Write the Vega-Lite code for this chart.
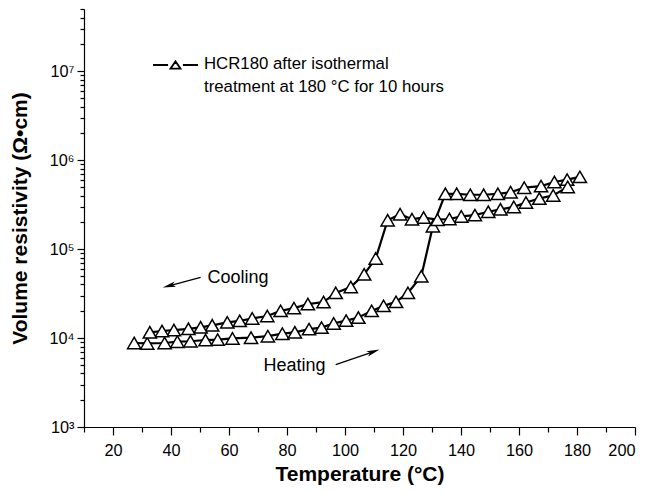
{
  "$schema": "https://vega.github.io/schema/vega-lite/v6.json",
  "width": 551,
  "height": 418,
  "autosize": {"type": "none"},
  "padding": {"left": 84, "top": 9, "right": 16, "bottom": 65},
  "background": "white",
  "config": {
    "view": {"stroke": null},
    "font": "Liberation Sans",
    "axis": {"grid": false, "domainColor": "black", "tickColor": "black", "labelColor": "black", "titleColor": "black", "labelFont": "Liberation Sans", "titleFont": "Liberation Sans", "labelFontSize": 16.3, "titleFontSize": 21, "titleFontWeight": "bold", "domainWidth": 1.2, "tickWidth": 1.2}
  },
  "datasets": {
    "pts": [
      {"T": 27.3, "R": 8800, "run": "heating"},
      {"T": 31.8, "R": 8700, "run": "heating"},
      {"T": 37.8, "R": 8800, "run": "heating"},
      {"T": 42.2, "R": 9100, "run": "heating"},
      {"T": 46.7, "R": 9200, "run": "heating"},
      {"T": 51.9, "R": 9500, "run": "heating"},
      {"T": 56.1, "R": 9600, "run": "heating"},
      {"T": 61.2, "R": 9900, "run": "heating"},
      {"T": 67.6, "R": 10100, "run": "heating"},
      {"T": 73.4, "R": 10500, "run": "heating"},
      {"T": 78.4, "R": 11200, "run": "heating"},
      {"T": 82.7, "R": 11600, "run": "heating"},
      {"T": 87.6, "R": 12600, "run": "heating"},
      {"T": 91.9, "R": 13100, "run": "heating"},
      {"T": 96.1, "R": 14600, "run": "heating"},
      {"T": 100.4, "R": 15700, "run": "heating"},
      {"T": 104.6, "R": 17000, "run": "heating"},
      {"T": 109.2, "R": 20200, "run": "heating"},
      {"T": 113.3, "R": 23000, "run": "heating"},
      {"T": 117.6, "R": 25500, "run": "heating"},
      {"T": 121.7, "R": 32200, "run": "heating"},
      {"T": 126.3, "R": 49500, "run": "heating"},
      {"T": 130.3, "R": 181000, "run": "heating"},
      {"T": 134.6, "R": 418000, "run": "heating"},
      {"T": 138.5, "R": 418000, "run": "heating"},
      {"T": 143.2, "R": 408000, "run": "heating"},
      {"T": 147.8, "R": 408000, "run": "heating"},
      {"T": 152.7, "R": 418000, "run": "heating"},
      {"T": 157.1, "R": 436000, "run": "heating"},
      {"T": 161.8, "R": 490000, "run": "heating"},
      {"T": 167.6, "R": 510000, "run": "heating"},
      {"T": 172.2, "R": 568000, "run": "heating"},
      {"T": 176.6, "R": 604000, "run": "heating"},
      {"T": 181.0, "R": 648000, "run": "heating"},
      {"T": 176.8, "R": 500000, "run": "cooling"},
      {"T": 171.8, "R": 401000, "run": "cooling"},
      {"T": 167.0, "R": 370000, "run": "cooling"},
      {"T": 162.4, "R": 334000, "run": "cooling"},
      {"T": 158.2, "R": 298000, "run": "cooling"},
      {"T": 153.6, "R": 280000, "run": "cooling"},
      {"T": 149.4, "R": 263000, "run": "cooling"},
      {"T": 144.8, "R": 241000, "run": "cooling"},
      {"T": 140.1, "R": 233000, "run": "cooling"},
      {"T": 136.0, "R": 218000, "run": "cooling"},
      {"T": 131.9, "R": 214000, "run": "cooling"},
      {"T": 127.1, "R": 226000, "run": "cooling"},
      {"T": 123.1, "R": 217000, "run": "cooling"},
      {"T": 119.0, "R": 247000, "run": "cooling"},
      {"T": 114.7, "R": 211000, "run": "cooling"},
      {"T": 110.6, "R": 78500, "run": "cooling"},
      {"T": 106.6, "R": 52000, "run": "cooling"},
      {"T": 102.0, "R": 37500, "run": "cooling"},
      {"T": 96.8, "R": 32200, "run": "cooling"},
      {"T": 92.6, "R": 25400, "run": "cooling"},
      {"T": 87.2, "R": 24100, "run": "cooling"},
      {"T": 82.4, "R": 21700, "run": "cooling"},
      {"T": 77.8, "R": 20200, "run": "cooling"},
      {"T": 73.2, "R": 17700, "run": "cooling"},
      {"T": 68.0, "R": 16600, "run": "cooling"},
      {"T": 63.7, "R": 15600, "run": "cooling"},
      {"T": 59.4, "R": 15000, "run": "cooling"},
      {"T": 54.2, "R": 13900, "run": "cooling"},
      {"T": 50.2, "R": 13200, "run": "cooling"},
      {"T": 46.0, "R": 12700, "run": "cooling"},
      {"T": 41.0, "R": 12300, "run": "cooling"},
      {"T": 36.9, "R": 12000, "run": "cooling"},
      {"T": 32.7, "R": 11600, "run": "cooling"}
    ],
    "arrows": [
      {"T": 50.2, "R": 48000, "arrow": "cool"},
      {"T": 39.0, "R": 38400, "arrow": "cool"},
      {"T": 96.8, "R": 5040, "arrow": "heat"},
      {"T": 110.2, "R": 7100, "arrow": "heat"}
    ],
    "heads": [
      {"T": 39.3, "R": 38700, "ang": -104.7},
      {"T": 109.8, "R": 7020, "ang": 71.3}
    ],
    "notes": [
      {"T": 52.6, "R": 47800, "label": "Cooling"},
      {"T": 71.9, "R": 4820, "label": "Heating"}
    ]
  },
  "encoding": {
    "x": {"field": "T", "type": "quantitative", "scale": {"domain": [10, 200], "nice": false, "zero": false},
      "axis": {"title": "Temperature (°C)", "values": [10, 20, 30, 40, 50, 60, 70, 80, 90, 100, 110, 120, 130, 140, 150, 160, 170, 180, 190, 200], "labelExpr": "datum.value % 20 == 0 ? datum.label : ''",
        "tickSize": {"condition": {"test": "datum.value % 20 == 0", "value": 8}, "value": 5}, "labelPadding": 7, "titlePadding": 5}},
    "y": {"field": "R", "type": "quantitative", "scale": {"type": "log", "domain": [1000, 50000000], "nice": false},
      "axis": {"title": "Volume resistivity (Ω•cm)",
        "values": [1000, 2000, 3000, 4000, 5000, 6000, 7000, 8000, 9000, 10000, 20000, 30000, 40000, 50000, 60000, 70000, 80000, 90000, 100000, 200000, 300000, 400000, 500000, 600000, 700000, 800000, 900000, 1000000, 2000000, 3000000, 4000000, 5000000, 6000000, 7000000, 8000000, 9000000, 10000000, 20000000, 30000000, 40000000, 50000000],
        "labelExpr": "indexof([1000,10000,100000,1000000,10000000], datum.value) >= 0 ? '10' + ['³','⁴','⁵','⁶','⁷'][indexof([1000,10000,100000,1000000,10000000], datum.value)] : ''",
        "tickSize": {"condition": {"test": "indexof([1000,10000,100000,1000000,10000000], datum.value) >= 0", "value": 7}, "value": 4},
        "labelPadding": 3, "titlePadding": 18}}
  },
  "layer": [
    {
      "data": {"name": "pts"},
      "mark": {"type": "line", "strokeWidth": 2.2},
      "encoding": {
        "detail": {"field": "run"},
        "stroke": {"datum": "HCR180", "scale": {"domain": ["HCR180"], "range": ["black"]},
          "legend": {"title": null, "orient": "none", "legendX": 68, "legendY": 23.5,
            "symbolType": "M -1 0.4 L -0.33 0.4 M 0.33 0.4 L 1 0.4 M -0.22 0.56 L 0 0.24 L 0.22 0.56 Z",
            "symbolSize": 2025, "symbolStrokeColor": "black", "symbolStrokeWidth": 1.8,
            "labelExpr": "['HCR180 after isothermal', 'treatment at 180 °C for 10 hours']",
            "labelFont": "Liberation Sans", "labelFontSize": 16.8, "labelColor": "black", "labelBaseline": "top", "labelOffset": 5, "labelLimit": 400,
            "encode": {"labels": {"update": {"lineHeight": {"value": 23}}}}}}
      }
    },
    {
      "data": {"name": "pts"},
      "mark": {"type": "point", "shape": "triangle-up", "filled": true, "fill": "white", "stroke": "black", "strokeWidth": 1.5, "size": 175, "opacity": 1}
    },
    {
      "data": {"name": "arrows"},
      "mark": {"type": "line", "color": "black", "strokeWidth": 1.3},
      "encoding": {"detail": {"field": "arrow"}}
    },
    {
      "data": {"name": "heads"},
      "mark": {"type": "point", "shape": "M 0 -1 L 0.42 1 L 0 0.55 L -0.42 1 Z", "filled": true, "color": "black", "size": 170, "opacity": 1},
      "encoding": {"angle": {"field": "ang", "type": "quantitative", "scale": null}}
    },
    {
      "data": {"name": "notes"},
      "mark": {"type": "text", "align": "left", "baseline": "middle", "fontSize": 18, "font": "Liberation Sans", "color": "black"},
      "encoding": {"text": {"field": "label"}}
    }
  ]
}
